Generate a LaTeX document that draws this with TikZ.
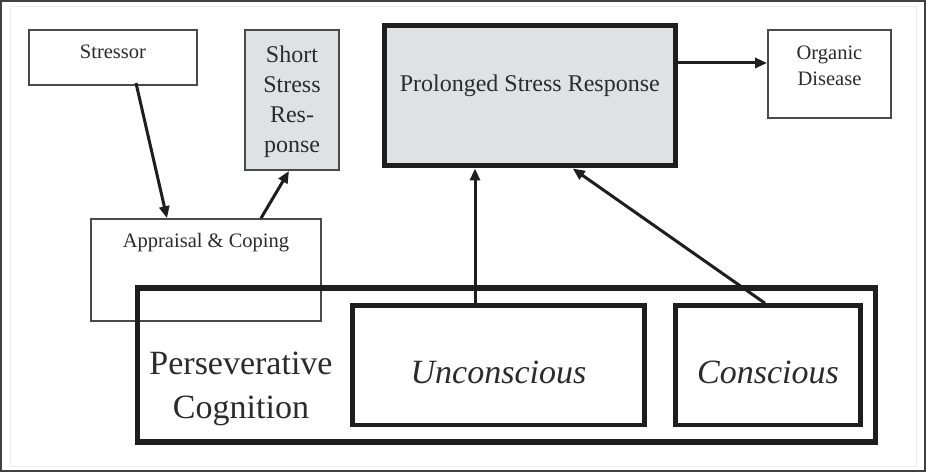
\documentclass[tikz,border=0pt]{standalone}
\usepackage{fontspec}
\setmainfont{Liberation Serif}
\usetikzlibrary{arrows.meta,calc}
\definecolor{ink}{HTML}{1E1E1E}
\definecolor{txt}{HTML}{2B2B2B}
\definecolor{boxgray}{HTML}{E0E1E3}
\definecolor{thinline}{HTML}{4A4A4A}
\begin{document}
\begin{tikzpicture}[x=1pt,y=-1pt,
  every node/.style={inner sep=0pt, text=txt},
  smallfont/.style={font=\fontsize{20.5pt}{26pt}\selectfont},
  midfont/.style={font=\fontsize{24pt}{30pt}\selectfont},
  bigfont/.style={font=\fontsize{34pt}{44pt}\selectfont},
  thinbox/.style={draw=thinline, line width=2pt},
  thickbox/.style={draw=ink, line width=5pt},
  innerbox/.style={draw=ink, line width=4.5pt},
  arr/.style={draw=ink, line width=3pt, -{Triangle[length=12pt,width=10pt]}},
  ]
\useasboundingbox (0,0) rectangle (927,473);
\fill[white] (0,0) rectangle (927,473);
% frame
\draw[gray!15, line width=0.8pt] (10,6) rectangle (916,466);
\draw[ink!85, line width=1.5pt] (1,1) rectangle (925,471);

% top row
\node[thinbox, smallfont, minimum width=168pt, text height=29pt, text depth=26pt]
  (stressor) at (113,57.5) {Stressor};
\node[thinbox, fill=boxgray, midfont, minimum width=94pt, text height=33pt, text depth=107pt]
  (short) at (292,100) {\parbox[t]{94pt}{\centering Short\\Stress\\Res-\\ponse}};
\node[thickbox, fill=boxgray, midfont, minimum width=291.5pt, text height=66.5pt, text depth=74pt]
  (prolonged) at (529.75,95.75) {Prolonged Stress Response};
\node[thinbox, smallfont, minimum width=123pt, text height=30pt, text depth=58pt]
  (organic) at (829.5,74) {\parbox[t]{123pt}{\centering Organic\\Disease}};

% appraisal
\node[thinbox, line width=1.6pt, smallfont, minimum width=230pt, text height=29pt, text depth=73pt]
  (appraisal) at (206,270) {Appraisal \& Coping};

% perseverative cognition
\node[thickbox, line width=5.5pt, minimum width=738pt, minimum height=154pt]
  (persev) at (506.5,365) {};
\node[bigfont, anchor=base] (perstext) at (241,374)
  {\parbox[t]{210pt}{\centering Perseverative\\Cognition}};
\node[innerbox, bigfont, minimum width=292pt, text height=77.5pt, text depth=42pt]
  (uncon) at (498.5,365.25) {\itshape Unconscious};
\node[innerbox, bigfont, minimum width=185pt, text height=77.5pt, text depth=42pt]
  (consc) at (768,365.25) {\itshape Conscious};

% connectors
\draw[arr] ([xshift=23pt,yshift=3pt]stressor.south) -- ([xshift=-39pt]appraisal.north);
\draw[arr] ([xshift=55pt]appraisal.north) -- ([xshift=-3pt]short.south);
\draw[arr] ([xshift=-23.5pt]uncon.north) -- ([xshift=-23.5pt]uncon.north |- prolonged.south);
\draw[arr] ([xshift=-3pt]consc.north) -- ([xshift=43pt]prolonged.south);
\draw[arr] ([yshift=32.75pt]prolonged.east) -- ([yshift=32.75pt]prolonged.east -| organic.west);
\end{tikzpicture}
\end{document}
